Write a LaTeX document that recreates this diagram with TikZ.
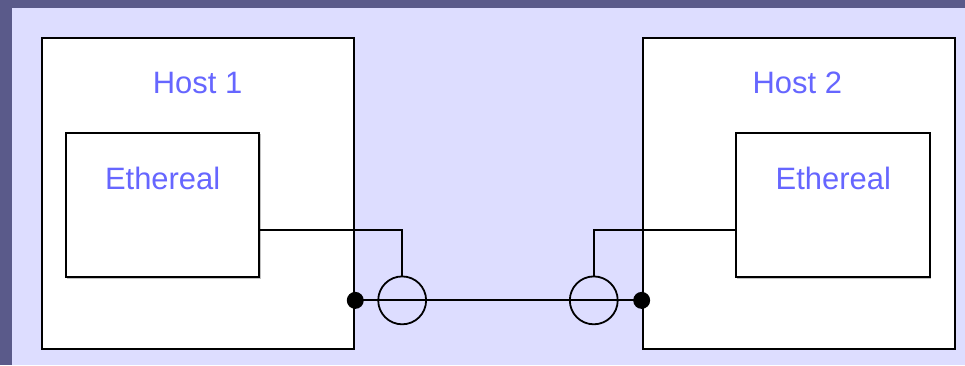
\documentclass[tikz,border=0pt]{standalone}
\usepackage{fontspec}
\setmainfont{Liberation Sans}
\usetikzlibrary{positioning,shadows}
\definecolor{SlideDark}{HTML}{5A5A8A}
\definecolor{SlideLilac}{HTML}{DDDDFF}
\definecolor{HostBlue}{HTML}{6666FF}

\begin{document}
\begin{tikzpicture}[x=1pt, y=1pt,
                    box/.style={draw=black, line width=2pt, fill=white, inner sep=0pt,
                                drop shadow={shadow xshift=1.2pt, shadow yshift=-1.2pt,
                                             fill=black!40, opacity=0.6}},
                    hostbox/.style={box, minimum width=313pt, minimum height=312pt},
                    ethbox/.style={box, minimum width=194pt, minimum height=145pt},
                    caption/.style={text=HostBlue, inner sep=0pt,
                                    font=\fontsize{31}{37}\selectfont},
                    tap/.style={circle, draw=black, line width=1.8pt, minimum size=48pt, inner sep=0pt},
                    joint/.style={circle, fill=black, minimum size=17pt, inner sep=0pt},
                    wire/.style={draw=black, line width=2pt}]
% slide background
\fill[SlideDark] (-1,-1) rectangle (966,365);
\fill[SlideLilac] (11,-1) rectangle (966,357);
\useasboundingbox (0,0) rectangle (965,364);

\node[hostbox] (host1) at (197.5,171) {};
\node[hostbox, right=287pt of host1] (host2) {};
\node[ethbox] (eth1) at (162,159.5) {};
\node[ethbox] (eth2) at (833.5,159.5) {};

\node[caption] (name1) at (197,282) {Host 1};
\node[caption] (name2) at (798,282) {Host 2};
\node[caption] (app1) at (162,186) {Ethereal};
\node[caption] (app2) at (834,186) {Ethereal};

\node[tap] (tap1) at (402,64) {};
\node[tap] (tap2) at (594,64) {};
\node[joint] (port1) at (host1.east |- tap1) {};
\node[joint] (port2) at (host2.west |- tap2) {};

\draw[wire] (port1.center) -- (port2.center);
\draw[wire] ([yshift=-24.5pt]eth1.east) -| (tap1.north);
\draw[wire] ([yshift=-24.5pt]eth2.west) -| (tap2.north);
\end{tikzpicture}
\end{document}
